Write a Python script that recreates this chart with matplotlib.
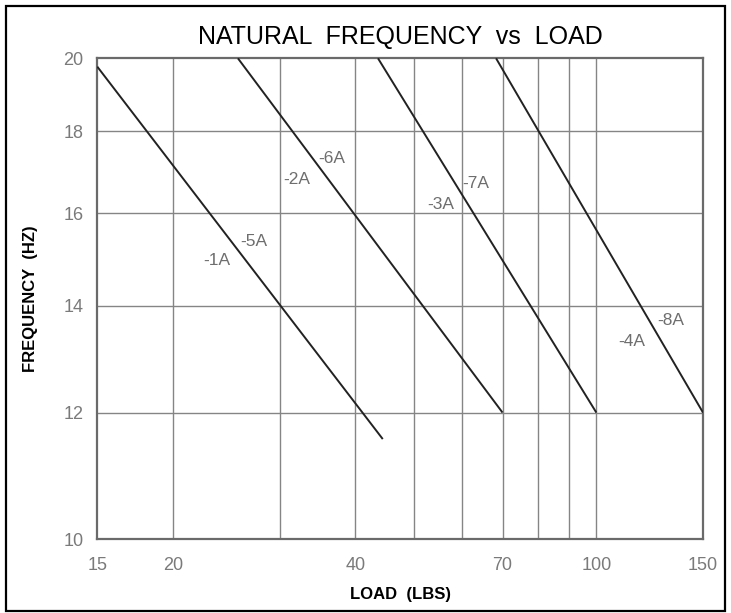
import matplotlib
matplotlib.use("Agg")
import matplotlib.pyplot as plt
from matplotlib.patches import Rectangle
from matplotlib.ticker import FixedLocator, NullFormatter, NullLocator

# line endpoints (load lbs, frequency hz)
line_loads = [[15, 44.4], [25.6, 70], [43.6, 100], [68.3, 150]]
line_freqs = [[19.76, 11.55], [20, 12], [20, 12], [20, 12]]

# part-number labels next to each line
label_text = ["-1A", "-5A", "-2A", "-6A", "-3A", "-7A", "-4A", "-8A"]
label_load = [22.4, 25.8, 30.4, 34.7, 52.5, 60.0, 108.6, 126.0]
label_freq = [14.95, 15.35, 16.8, 17.3, 16.2, 16.7, 13.3, 13.7]

x_grid = [20, 30, 40, 50, 60, 70, 80, 90, 100]
x_ticks = [15, 20, 40, 70, 100, 150]
y_grid = [12, 14, 16, 18]
y_ticks = [10, 12, 14, 16, 18, 20]

TICK_GRAY = "#7a7a7a"
GRID_GRAY = "#858585"
LINE_COL = "#222222"
FONTS = ["Liberation Sans", "DejaVu Sans"]

fig = plt.figure(figsize=(7.31, 6.13), dpi=100)
ax = fig.add_axes([0.1331, 0.1207, 0.8286, 0.7842])
ax.set_xscale("log")
ax.set_yscale("log")
ax.set_xlim(15, 150)
ax.set_ylim(10, 20)

for xs, ys in zip(line_loads, line_freqs):
    ax.plot(xs, ys, color=LINE_COL, linewidth=1.4, solid_capstyle="butt", zorder=3)

for t, lx, ly in zip(label_text, label_load, label_freq):
    ax.text(lx, ly, t, color="#6e6e6e", fontsize=12.5, ha="left", va="center",
            family=FONTS, zorder=4)

for g in x_grid:
    ax.axvline(g, color=GRID_GRAY, linewidth=1.0, zorder=1)
for g in y_grid:
    ax.axhline(g, color=GRID_GRAY, linewidth=1.0, zorder=1)

ax.xaxis.set_major_locator(FixedLocator(x_ticks))
ax.xaxis.set_minor_locator(NullLocator())
ax.xaxis.set_minor_formatter(NullFormatter())
ax.set_xticklabels([str(v) for v in x_ticks])
ax.yaxis.set_major_locator(FixedLocator(y_ticks))
ax.yaxis.set_minor_locator(NullLocator())
ax.yaxis.set_minor_formatter(NullFormatter())
ax.set_yticklabels([str(v) for v in y_ticks])
ax.tick_params(axis="x", length=0, pad=13, labelsize=13, labelcolor=TICK_GRAY)
ax.tick_params(axis="y", length=0, pad=10, labelsize=13, labelcolor=TICK_GRAY)
for lab in ax.get_xticklabels() + ax.get_yticklabels():
    lab.set_family(FONTS)

for sp in ax.spines.values():
    sp.set_color("#6a6a6a")
    sp.set_linewidth(1.6)

ax.set_xlabel("LOAD  (LBS)", fontsize=12, fontweight="bold", family=FONTS)
ax.xaxis.set_label_coords(0.5, -0.1)
ax.set_ylabel("FREQUENCY  (HZ)", fontsize=12, fontweight="bold", family=FONTS)
ax.yaxis.set_label_coords(-0.098, 0.5)

ax.set_title("NATURAL  FREQUENCY  vs  LOAD", fontsize=18, pad=10,
             family=["Liberation Sans Narrow"] + FONTS)

# outer frame around the whole drawing
fig.patches.append(Rectangle((6 / 731, 2 / 613), 719 / 731, 605 / 613,
                             transform=fig.transFigure, fill=False,
                             edgecolor="black", linewidth=1.6))

fig.savefig("out.png", dpi=100)
